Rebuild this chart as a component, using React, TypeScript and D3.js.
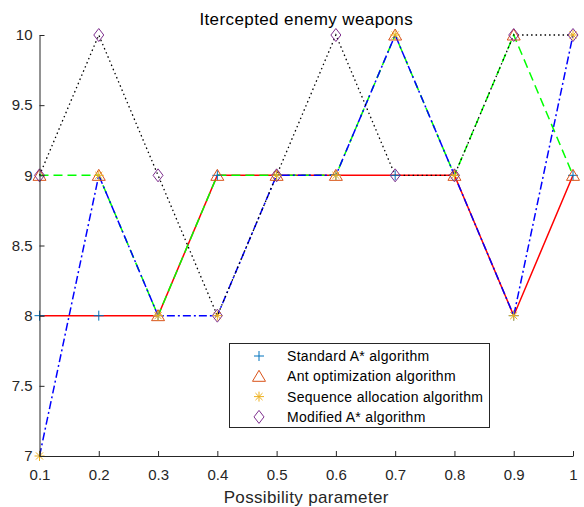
import { useRef, useEffect } from 'react';
import * as d3 from 'd3';

const params = [0.1, 0.2, 0.3, 0.4, 0.5, 0.6, 0.7, 0.8, 0.9, 1.0];
const standardA = [8, 8, 8, 9, 9, 9, 9, 9, 8, 9];
const antOpt = [9, 9, 8, 9, 9, 9, 10, 9, 10, 9];
const seqAlloc = [7, 9, 8, 8, 9, 9, 10, 9, 8, 10];
const modifiedA = [9, 10, 9, 8, 9, 10, 9, 9, 10, 10];
const xTicks = [0.1, 0.2, 0.3, 0.4, 0.5, 0.6, 0.7, 0.8, 0.9, 1];
const yTicks = [7, 7.5, 8, 8.5, 9, 9.5, 10];
const legendNames = [
  'Standard A* algorithm',
  'Ant optimization algorithm',
  'Sequence allocation algorithm',
  'Modified A* algorithm',
];

const FONT = 'Liberation Sans, Arial, sans-serif';
const AX = '#262626';

export default function App() {
  const svgRef = useRef<SVGSVGElement>(null);

  useEffect(() => {
    const width = 584;
    const height = 507;
    const left = 39.5, right = 573, top = 35, bottom = 456;

    const svg = d3.select(svgRef.current);
    svg.selectAll('*').remove();
    svg.attr('width', width).attr('height', height);

    const x = d3.scaleLinear().domain([0.1, 1]).range([left, right]);
    const y = d3.scaleLinear().domain([7, 10]).range([bottom, top]);

    // series lines
    const lines = [
      { data: standardA, color: '#ff0000', dash: null },
      { data: antOpt, color: '#00ff00', dash: '9,5' },
      { data: seqAlloc, color: '#0000ff', dash: '8,3,2,3' },
      { data: modifiedA, color: '#000000', dash: '1.5,3' },
    ];
    const line = d3.line<number>().x((d, i) => x(params[i])).y(d => y(d));
    lines.forEach(s => {
      svg.append('path')
        .attr('d', line(s.data))
        .attr('fill', 'none')
        .attr('stroke', s.color)
        .attr('stroke-width', s.dash === '1.5,3' ? 1.3 : 1.5)
        .attr('stroke-dasharray', s.dash);
    });

    // marker drawers
    const plus = (g: any, cx: number, cy: number) => {
      g.append('path').attr('d', `M${cx - 5},${cy}H${cx + 5}M${cx},${cy - 5}V${cy + 5}`)
        .attr('stroke', '#0072BD').attr('stroke-width', 1).attr('fill', 'none');
    };
    const tri = (g: any, cx: number, cy: number) => {
      g.append('path').attr('d', `M${cx},${cy - 6}L${cx + 6.5},${cy + 5}L${cx - 6.5},${cy + 5}Z`)
        .attr('stroke', '#D95319').attr('stroke-width', 1).attr('fill', 'none');
    };
    const star = (g: any, cx: number, cy: number) => {
      const r = 5;
      let d = '';
      for (let k = 0; k < 4; k++) {
        const a = (k * Math.PI) / 4;
        d += `M${cx - r * Math.cos(a)},${cy - r * Math.sin(a)}L${cx + r * Math.cos(a)},${cy + r * Math.sin(a)}`;
      }
      g.append('path').attr('d', d).attr('stroke', '#EDB120').attr('stroke-width', 1).attr('fill', 'none');
    };
    const diamond = (g: any, cx: number, cy: number) => {
      g.append('path').attr('d', `M${cx},${cy - 6.5}L${cx + 5},${cy}L${cx},${cy + 6.5}L${cx - 5},${cy}Z`)
        .attr('stroke', '#7E2F8E').attr('stroke-width', 1).attr('fill', 'none');
    };
    const markers = [plus, tri, star, diamond];
    const series = [standardA, antOpt, seqAlloc, modifiedA];

    const mg = svg.append('g');
    series.forEach((s, si) => {
      s.forEach((v, i) => markers[si](mg, x(params[i]), y(v)));
    });

    // axes (box off)
    const xAxis = svg.append('g').attr('transform', `translate(0,${bottom})`)
      .call(d3.axisBottom(x).tickValues(xTicks).tickSizeInner(-5).tickSizeOuter(0)
        .tickFormat(d => (+d === 1 ? '1' : d3.format('.1f')(+d))));
    xAxis.select('.domain').attr('stroke', AX);
    xAxis.selectAll('line').attr('stroke', AX);
    xAxis.selectAll('text').attr('fill', AX).attr('font-size', 15).attr('font-family', FONT)
      .attr('y', 24).attr('dy', 0);

    const yAxis = svg.append('g').attr('transform', `translate(${left},0)`)
      .call(d3.axisLeft(y).tickValues(yTicks).tickSizeInner(-5).tickSizeOuter(0)
        .tickFormat(d => String(+d)));
    yAxis.select('.domain').attr('stroke', AX);
    yAxis.selectAll('line').attr('stroke', AX);
    yAxis.selectAll('text').attr('fill', AX).attr('font-size', 15).attr('font-family', FONT).attr('x', -7);

    // title and label
    svg.append('text').attr('x', (left + right) / 2).attr('y', 25)
      .attr('text-anchor', 'middle').attr('font-family', FONT).attr('font-size', 17)
      .attr('letter-spacing', 0.4).attr('fill', '#000').text('Itercepted enemy weapons');
    svg.append('text').attr('x', (left + right) / 2).attr('y', 503)
      .attr('text-anchor', 'middle').attr('font-family', FONT).attr('font-size', 17)
      .attr('letter-spacing', 0.35).attr('fill', AX).text('Possibility parameter');

    // legend
    const lg = svg.append('g');
    lg.append('rect').attr('x', 229.5).attr('y', 343.5).attr('width', 260).attr('height', 84)
      .attr('fill', '#fff').attr('stroke', AX).attr('stroke-width', 1);
    legendNames.forEach((name, i) => {
      const cy = 356 + i * 20.3;
      markers[i](lg, 259, cy);
      lg.append('text').attr('x', 287).attr('y', cy).attr('dy', '0.35em')
        .attr('font-family', FONT).attr('font-size', 14).attr('letter-spacing', 0.3)
        .attr('fill', '#000').text(name);
    });
  }, []);

  return <svg ref={svgRef} style={{ position: 'absolute', left: 0, top: 0 }} />;
}
